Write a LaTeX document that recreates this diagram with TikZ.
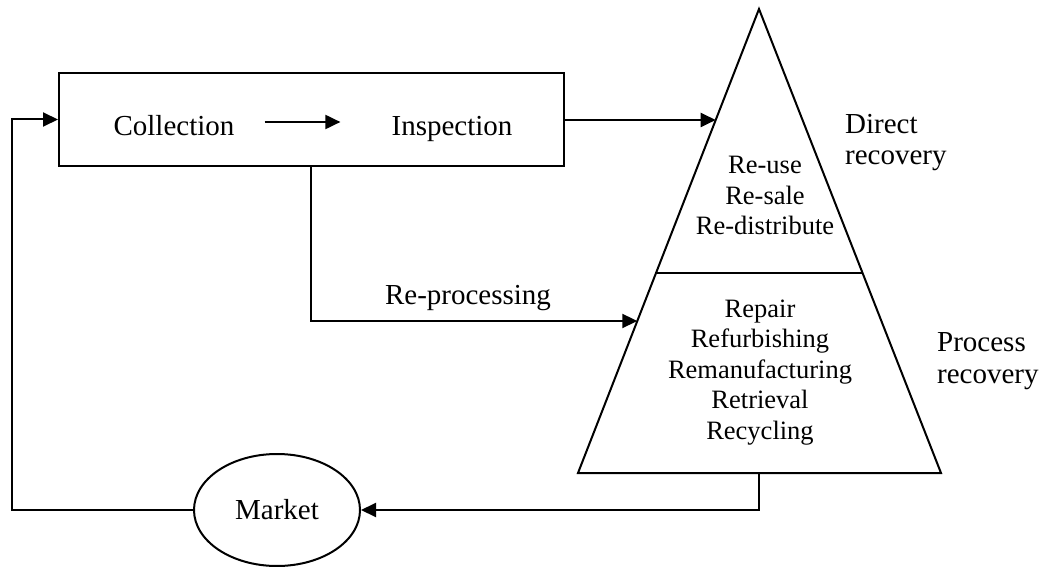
\documentclass[tikz,border=0pt]{standalone}
\usepackage{fontspec}
\setmainfont{Liberation Serif}
\usetikzlibrary{arrows.meta,calc,shapes.geometric}

\tikzset{
  line/.style={line width=2pt},
  arr/.style={line, -{Triangle[length=15pt,width=14pt]}},
  big/.style={font=\fontsize{29}{32}\selectfont, inner sep=0pt},
  small/.style={font=\fontsize{26.5}{30.5}\selectfont, inner sep=0pt, align=center},
}

\begin{document}
\begin{tikzpicture}[x=1pt,y=-1pt]
  \useasboundingbox (0,0) rectangle (1042,567);

  % process box with its two steps
  \node[line, draw, minimum width=505pt, minimum height=93pt, inner sep=0pt] (box) at (311.5,119.5) {};
  \node[big, anchor=base] (coll) at (174,136) {Collection};
  \node[big, anchor=base] (insp) at (452,136) {Inspection};
  \draw[arr] ([shift={(30,-14)}]coll.base east) -- ([shift={(-51,-14)}]insp.base west);

  % recovery pyramid
  \coordinate (apex) at (759,9);
  \coordinate (bl) at (578,473);
  \coordinate (br) at (941,473);
  \draw[line, line join=miter] (apex) -- (bl) -- (br) -- cycle;
  \draw[line] ($(apex)!0.569!(bl)$) -- ($(apex)!0.569!(br)$);
  \coordinate (dIn) at ($(apex)!0.2392!(bl)$);
  \coordinate (rIn) at ($(apex)!0.6724!(bl)$);

  \node[small] (direct) at (765,195.5) {Re-use\\Re-sale\\Re-distribute};
  \node[small] (process) at (760,372.5) {Repair\\Refurbishing\\Remanufacturing\\Retrieval\\Recycling};

  \node[big, align=left, anchor=base west] (dlabel) at (845,165) {Direct\\recovery};
  \node[big, align=left, anchor=base west] (plabel) at (937,383) {Process\\recovery};

  % market
  \node[line, draw, ellipse, minimum width=166pt, minimum height=112pt, inner sep=0pt, font=\fontsize{29}{32}\selectfont] (market) at (277,510) {Market};

  % connectors
  \draw[arr] (box.east |- dIn) -- (dIn);
  \draw[arr] ([xshift=253pt]box.south west) |- (rIn);
  \node[big, anchor=base] (reproc) at (468,304) {Re-processing};
  \draw[arr] (apex |- bl) |- (market.east);
  \coordinate (rail) at (12,119.5);
  \draw[arr] (market.west) -| (rail) -- (box.west);
\end{tikzpicture}
\end{document}
